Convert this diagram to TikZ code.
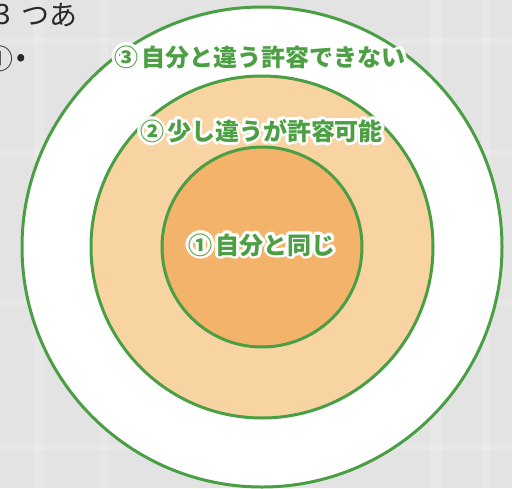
\documentclass[tikz,border=0pt]{standalone}
\usepackage{fontspec}
\newfontfamily\jpfont{Noto Sans CJK JP}
\definecolor{bggray}{HTML}{E3E3E3}
\definecolor{bandlight}{HTML}{EEEEEE}
\definecolor{ringgreen}{HTML}{4A9E43}
\definecolor{labelgreen}{HTML}{4CA043}
\definecolor{midfill}{HTML}{F8D4A2}
\definecolor{innerfill}{HTML}{F3B36B}
\definecolor{darktext}{HTML}{2A2A2A}
\tikzset{
  ring/.style={draw=ringgreen, line width=3pt},
  band/.style={fill=bandlight, opacity=0.45},
  lbl/.style={inner sep=0pt, font=\jpfont\bfseries\fontsize{24}{28}\selectfont},
  toptext/.style={inner sep=0pt, text=darktext, font=\jpfont\fontsize{28}{32}\selectfont},
}
\newcommand\halolabel[3]{%
  \foreach \a in {0,24,...,336}{%
    \node[lbl, text=white, shift={(\a:2.8)}] (#1-\a) at (#2) {#3};
  }
  \node[lbl, text=labelgreen] (#1) at (#2) {#3};
}
\begin{document}
\begin{tikzpicture}[x=1pt,y=-1pt]
\useasboundingbox (0,0) rectangle (512,488);
\fill[bggray] (0,0) rectangle (512,488);
% plaid-like lighter bands
\fill[band] (33,0) rectangle (44,488);
\fill[band] (100,0) rectangle (108,488);
\fill[band] (430,0) rectangle (442,488);
\fill[band] (482,0) rectangle (490,488);
\fill[band] (0,38) rectangle (512,45);
\fill[band] (0,150) rectangle (512,156);
\fill[band] (0,300) rectangle (512,306);
\fill[band] (0,444) rectangle (512,450);
% top-left text fragments (cut at the left edge)
\node[toptext, anchor=east] (t3) at (11,15) {3};
\node[toptext, anchor=west] (tsua) at (21,15) {つあ};
\node[toptext, anchor=east] (tc1) at (14,59) {①};
\node[toptext, anchor=west] (tdot) at (16,60) {•};
% rings
\node[ring, fill=white, circle, minimum size=480pt, inner sep=0pt] (outer) at (262,247) {};
\node[ring, fill=midfill, circle, minimum size=342pt, inner sep=0pt] (middle) at (262,247) {};
\node[ring, fill=innerfill, circle, minimum size=200pt, inner sep=0pt] (inner) at (262,247) {};
% labels
\halolabel{l3}{260,57}{③\hspace{3pt}自分と違う許容できない}
\halolabel{l2}{261.5,131}{②\hspace{3pt}少し違うが許容可能}
\halolabel{l1}{262,245}{①\hspace{3pt}自分と同じ}
\end{tikzpicture}
\end{document}
